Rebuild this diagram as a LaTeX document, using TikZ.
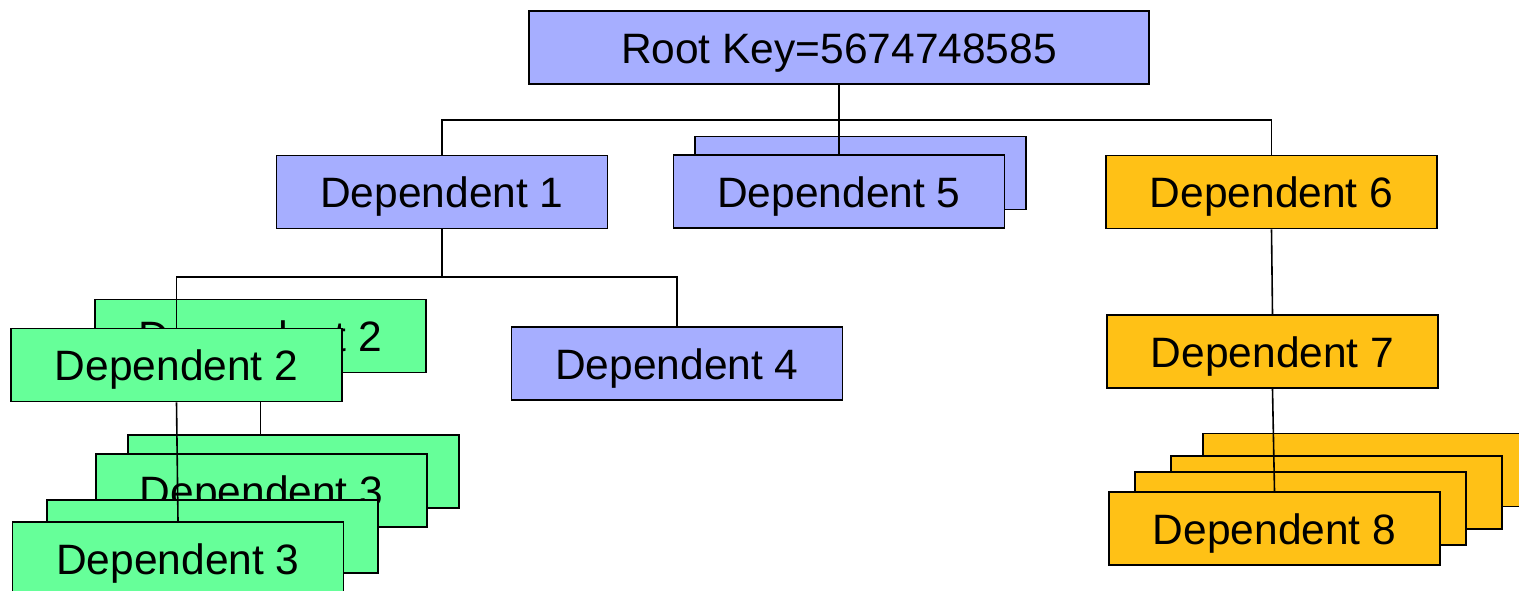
\documentclass[tikz,border=0pt]{standalone}
\usepackage{fontspec}
\setmainfont{Liberation Sans}
\definecolor{keyblue}{RGB}{166,174,255}
\definecolor{depgreen}{RGB}{102,255,153}
\definecolor{deporange}{RGB}{255,193,22}
\pgfdeclarelayer{paper}
\pgfdeclarelayer{back}
\pgfdeclarelayer{links}
\pgfsetlayers{paper,back,links,main}
\tikzset{
  recbox/.style={draw=black, line width=1.8pt, inner sep=0pt,
    minimum width=331pt, minimum height=73pt,
    text height=31pt, text depth=0pt,
    font=\fontsize{42.5}{50}\selectfont},
  bluebox/.style={recbox, fill=keyblue},
  greenbox/.style={recbox, fill=depgreen},
  orangebox/.style={recbox, fill=deporange},
  link/.style={draw=black, line width=1.6pt},
  droplink/.style={draw=black, line width=2.4pt},
}
\begin{document}
\begin{tikzpicture}[x=1pt, y=-1pt]
\useasboundingbox (0,0) rectangle (1519,590);
\begin{pgfonlayer}{paper}
  \fill[white] (0,0) rectangle (1519,590);
\end{pgfonlayer}

% stacked copies behind the front records
\begin{pgfonlayer}{back}
  \node[bluebox] (d5b) at (860.5,173) {};
  \node[greenbox] (d2b) at (260.5,336) {Dependent 2};
  \node[greenbox] (d3a) at (293.5,471.5) {};
  \node[greenbox] (d3b) at (261.5,490.5) {Dependent 3};
  \node[greenbox] (d3c) at (212.5,536.5) {};
  \node[orangebox] (d8a) at (1368.5,470) {};
  \node[orangebox] (d8b) at (1336.5,492.5) {};
  \node[orangebox] (d8c) at (1300.5,508.5) {};
\end{pgfonlayer}

% front records
\node[bluebox, minimum width=620pt] (root) at (839,47.5) {Root Key=5674748585};
\node[bluebox] (d1) at (442,192) {Dependent 1};
\node[bluebox] (d5) at (839,191.5) {Dependent 5};
\node[orangebox] (d6) at (1271.5,192) {Dependent 6};
\node[greenbox] (d2) at (176.5,365) {Dependent 2};
\node[bluebox] (d4) at (677,363.5) {Dependent 4};
\node[orangebox] (d7) at (1272.5,351.5) {Dependent 7};
\node[greenbox] (d3) at (178,558.5) {Dependent 3};
\node[orangebox] (d8) at (1274.5,528.5) {Dependent 8};

\coordinate (bus1) at (839,120);
\coordinate (bus2) at (442,277);

% connectors
\begin{pgfonlayer}{links}
  \draw[droplink] (root.south) -- (bus1);
  \draw[link] (d1.north) |- (bus1) -| (d6.north);
  \draw[link] (bus1) -- (d5.north);
  \draw[droplink] (d1.south) -- (bus2);
  \draw[link] (d2.north) |- (bus2) -| (d4.north);
  \draw[link] (d2.south) -- (d3.north);
  \draw[link] (d2b.south) -- (d2b.south |- d3a.north);
  \draw[link] (d6.south) -- (d7.north);
  \draw[link] (d7.south) -- (d8.north);
\end{pgfonlayer}
\end{tikzpicture}
\end{document}
